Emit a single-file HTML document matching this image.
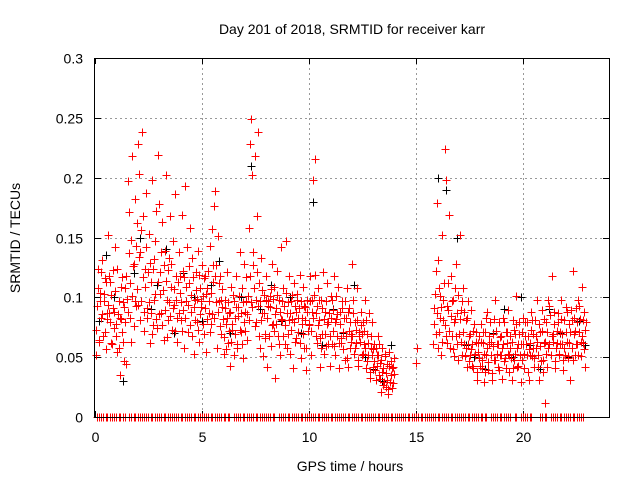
<!DOCTYPE html>
<html><head><meta charset="utf-8"><style>
html,body{margin:0;padding:0;background:#fff}
svg{display:block;font-family:"Liberation Sans",sans-serif}
</style></head><body>
<svg id="chart" width="640" height="480" viewBox="0 0 640 480">
<text x="352" y="34" font-size="14" text-anchor="middle">Day 201 of 2018, SRMTID for receiver karr</text>
<text x="350" y="471" font-size="14" text-anchor="middle">GPS time / hours</text>
<text transform="translate(20,238) rotate(-90)" font-size="14" text-anchor="middle">SRMTID / TECUs</text>
<g id="grid"></g>
<g id="ticks"></g>
<g id="black"></g>
<g id="red"></g>
<rect x="94.5" y="58.5" width="515" height="359" fill="none" stroke="#000" stroke-width="1"/>
</svg>
<script>
const xTicks=[0,5,10,15,20];
const yTicks=[0,0.05,0.1,0.15,0.2,0.25,0.3];
const yTickLabels=["0","0.05","0.1","0.15","0.2","0.25","0.3"];
const redHours=[0.05,0.1,0.15,0.2,0.25,0.3,0.35,0.4,0.45,0.5,0.55,0.6,0.65,0.7,0.75,0.8,0.85,0.9,0.95,1.0,1.05,1.1,1.15,1.2,1.25,1.3,1.35,1.4,1.45,1.5,1.55,1.6,1.65,1.7,1.75,1.8,1.85,1.9,1.95,
2.0,2.05,2.1,2.15,2.2,2.25,2.3,2.35,2.4,2.45,2.5,2.55,2.6,2.65,2.7,2.75,2.8,2.85,2.9,2.95,3.0,3.05,3.1,3.15,3.2,3.25,3.3,3.35,3.4,3.45,3.5,3.55,3.6,3.65,3.7,3.75,3.8,3.85,3.9,3.95,
4.0,4.05,4.1,4.15,4.2,4.25,4.3,4.35,4.4,4.45,4.5,4.55,4.6,4.65,4.7,4.75,4.8,4.85,4.9,4.95,5.0,5.05,5.1,5.15,5.2,5.25,5.3,5.35,5.4,5.45,5.5,5.55,5.6,5.65,5.7,5.75,5.8,5.85,5.9,5.95,
6.0,6.05,6.1,6.15,6.2,6.25,6.3,6.35,6.4,6.45,6.5,6.55,6.6,6.65,6.7,6.75,6.8,6.85,6.9,6.95,7.0,7.05,7.1,7.15,7.2,7.25,7.3,7.35,7.4,7.45,7.5,7.55,7.6,7.65,7.7,7.75,7.8,7.85,7.9,7.95,
8.0,8.05,8.1,8.15,8.2,8.25,8.3,8.35,8.4,8.45,8.5,8.55,8.6,8.65,8.7,8.75,8.8,8.85,8.9,8.95,9.0,9.05,9.1,9.15,9.2,9.25,9.3,9.35,9.4,9.45,9.5,9.55,9.6,9.65,9.7,9.75,9.8,9.85,9.9,9.95,
10.0,10.05,10.1,10.15,10.2,10.25,10.3,10.35,10.4,10.45,10.5,10.55,10.6,10.65,10.7,10.75,10.8,10.85,10.9,10.95,11.0,11.05,11.1,11.15,11.2,11.25,11.3,11.35,11.4,11.45,11.5,11.55,11.6,11.65,11.7,11.75,11.8,11.85,11.9,11.95,
12.0,12.05,12.1,12.15,12.2,12.25,12.3,12.35,12.4,12.45,12.5,12.55,12.6,12.65,12.7,12.75,12.8,12.85,12.9,12.95,13.0,13.05,13.1,13.15,13.2,13.25,13.3,13.35,13.4,13.45,13.5,13.55,13.6,13.65,13.7,13.75,13.8,13.85,13.9,13.95,
15.0,15.8,15.85,15.9,15.95,16.0,16.05,16.1,16.15,16.2,16.25,16.3,16.35,16.4,16.45,16.5,16.55,16.6,16.65,16.7,16.75,16.8,16.85,16.9,16.95,17.0,17.05,17.1,17.15,17.2,17.25,17.3,17.35,17.4,17.45,17.5,17.55,17.6,17.65,17.7,17.75,17.8,17.85,17.9,17.95,
18.0,18.05,18.1,18.15,18.2,18.25,18.3,18.35,18.4,18.45,18.5,18.55,18.6,18.65,18.7,18.75,18.8,18.85,18.9,18.95,19.0,19.05,19.1,19.15,19.2,19.25,19.3,19.35,19.4,19.45,19.5,19.55,19.6,19.65,19.7,19.75,19.8,19.85,19.9,19.95,
20.0,20.05,20.1,20.15,20.2,20.25,20.3,20.35,20.4,20.45,20.5,20.55,20.6,20.65,20.7,20.75,20.8,20.85,20.9,20.95,21.0,21.05,21.1,21.15,21.2,21.25,21.3,21.35,21.4,21.45,21.5,21.55,21.6,21.65,21.7,21.75,21.8,21.85,21.9,21.95,
22.0,22.05,22.1,22.15,22.2,22.25,22.3,22.35,22.4,22.45,22.5,22.55,22.6,22.65,22.7,22.75,22.8,22.85,22.9];
const redValues=[.052,.093,.124,.063,.104,.083,.131,.097,.071,.113,.087,.152,.118,.079,.102,.061,.123,.088,.142,.068,.054,.097,.035,.082,.117,.063,.092,.108,.044,.099,.197,.171,.083,.148,.218,.128,.182,.093,.162,
.228,.203,.138,.097,.238,.168,.072,.124,.187,.091,.153,.062,.113,.198,.077,.132,.103,.172,.074,.219,.178,.121,.087,.163,.064,.139,.202,.098,.081,.133,.168,.109,.073,.147,.094,.186,.118,.063,.138,.104,
.081,.169,.122,.058,.193,.097,.142,.071,.112,.158,.088,.133,.053,.098,.121,.079,.139,.063,.108,.092,.127,.101,.069,.118,.054,.108,.087,.143,.078,.157,.113,.176,.189,.127,.058,.151,.097,.118,.069,.092,
.053,.098,.078,.121,.062,.087,.043,.109,.073,.102,.052,.083,.118,.061,.092,.138,.071,.108,.049,.128,.088,.117,.064,.101,.158,.228,.249,.202,.138,.218,.079,.168,.238,.112,.058,.133,.087,.051,.102,.069,
.118,.042,.093,.101,.059,.128,.078,.109,.033,.091,.122,.068,.098,.052,.142,.081,.108,.061,.147,.087,.069,.118,.053,.097,.082,.041,.112,.063,.088,.103,.071,.119,.049,.083,.109,.058,.092,.039,.098,.072,
.078,.118,.052,.098,.198,.216,.087,.062,.108,.081,.042,.098,.069,.121,.053,.088,.059,.112,.079,.043,.101,.061,.089,.118,.052,.082,.068,.109,.041,.088,.062,.097,.071,.048,.083,.108,.042,.091,.058,.069,
.128,.098,.053,.079,.062,.108,.043,.071,.088,.052,.079,.061,.098,.041,.069,.052,.087,.033,.058,.079,.042,.061,.031,.052,.068,.035,.045,.021,.058,.041,.029,.051,.025,.044,.019,.054,.035,.041,.028,.049,
.045,.061,.091,.122,.179,.131,.071,.101,.052,.152,.081,.112,.224,.198,.062,.089,.169,.118,.068,.098,.051,.082,.128,.061,.102,.069,.152,.089,.052,.108,.061,.081,.042,.097,.068,.052,.089,.061,.041,.078,.053,.071,.031,.062,.049,
.078,.041,.062,.029,.071,.052,.088,.039,.061,.079,.052,.031,.069,.048,.098,.061,.042,.079,.052,.068,.032,.061,.079,.049,.041,.071,.089,.052,.058,.031,.081,.048,.069,.101,.042,.061,.079,.052,.029,.071,
.061,.041,.079,.052,.068,.031,.062,.088,.051,.069,.042,.081,.058,.098,.052,.031,.071,.089,.048,.062,.012,.079,.042,.098,.061,.085,.052,.118,.069,.088,.041,.062,.079,.052,.071,.098,.061,.039,.081,.052,
.071,.088,.049,.062,.031,.081,.122,.069,.052,.091,.061,.098,.071,.082,.051,.109,.062,.088,.042];
const redValuesB=[.073,.108,.064,.097,.121,.086,.068,.103,.116,.057,.082,.094,.087,.113,.062,.091,.074,.105,.078,.124,.086,.058,.083,.109,.071,.096,.047,.079,.118,.088,.137,.112,.063,.101,.126,.076,.097,.143,.107,
.094,.134,.081,.156,.117,.088,.109,.142,.083,.121,.096,.129,.087,.069,.124,.098,.147,.082,.113,.086,.103,.138,.077,.106,.127,.089,.114,.067,.123,.096,.084,.128,.091,.107,.072,.098,.083,.113,.087,.118,
.096,.072,.089,.117,.083,.109,.094,.126,.077,.102,.068,.117,.092,.081,.106,.099,.073,.119,.086,.097,.078,.116,.091,.103,.082,.122,.097,.071,.104,.086,.127,.083,.118,.096,.088,.112,.076,.098,.107,.082,
.067,.091,.057,.083,.096,.072,.088,.063,.078,.097,.069,.092,.058,.084,.101,.073,.087,.061,.096,.079,.072,.097,.086,.081,.118,.096,.092,.127,.108,.076,.098,.121,.093,.068,.097,.081,.106,.087,.066,.098,
.083,.097,.068,.092,.107,.077,.099,.072,.086,.078,.102,.061,.088,.082,.097,.068,.093,.077,.104,.058,.096,.081,.087,.073,.102,.079,.093,.066,.098,.083,.091,.062,.097,.078,.069,.093,.081,.058,.088,.077,
.097,.072,.088,.083,.102,.119,.068,.093,.077,.098,.066,.058,.091,.082,.069,.097,.078,.061,.087,.068,.083,.098,.072,.059,.079,.101,.086,.062,.078,.066,.091,.057,.083,.097,.068,.049,.088,.072,.079,.063,
.068,.087,.058,.073,.081,.048,.068,.063,.077,.069,.053,.072,.058,.081,.047,.062,.038,.068,.052,.057,.047,.039,.058,.043,.052,.061,.032,.048,.038,.027,.053,.037,.031,.023,.043,.029,.047,.024,.042,.036,
.058,.078,.103,.069,.087,.058,.108,.083,.092,.063,.098,.077,.068,.093,.112,.072,.058,.084,.097,.057,.079,.108,.068,.087,.048,.082,.063,.097,.071,.088,.051,.058,.083,.061,.047,.069,.057,.043,.072,.052,.063,.038,.054,.068,.043,
.063,.048,.071,.053,.038,.083,.058,.046,.068,.063,.037,.059,.082,.048,.072,.053,.061,.039,.067,.052,.058,.083,.047,.071,.062,.053,.038,.068,.049,.063,.041,.073,.053,.078,.058,.043,.069,.061,.048,.083,
.053,.068,.061,.079,.038,.057,.052,.073,.081,.058,.049,.068,.063,.042,.078,.059,.047,.072,.038,.082,.063,.053,.071,.058,.093,.052,.068,.063,.078,.047,.058,.072,.087,.053,.061,.082,.069,.048,.058,.092,
.063,.051,.078,.071,.089,.058,.048,.083,.072,.061,.079,.052,.093,.063,.068,.081,.057,.073,.079];
const blackHours=[0.2,0.5,0.9,1.3,1.8,2.1,2.6,2.9,3.3,3.7,4.1,4.6,5.0,5.4,5.8,6.3,6.8,7.3,7.7,8.2,8.7,9.1,9.6,10.2,10.6,11.1,11.6,12.1,12.6,13.0,13.4,13.8,16.0,16.4,16.9,17.3,17.7,18.2,18.6,19.1,19.5,19.9,20.3,20.8,21.2,21.7,22.1,22.6,22.9];
const blackValues=[.08,.135,.1,.03,.12,.15,.09,.11,.14,.07,.12,.1,.08,.11,.13,.07,.1,.21,.09,.11,.08,.1,.07,.18,.06,.09,.07,.11,.05,.04,.03,.06,.2,.19,.15,.06,.05,.04,.07,.09,.05,.1,.06,.04,.09,.07,.05,.08,.06];
const zeroHours=[0.1,0.3,0.5,0.7,0.9,1.1,1.3,1.6,1.8,2.0,2.2,2.4,2.6,2.8,3.0,3.2,3.4,3.6,3.8,4.0,4.2,4.4,4.6,4.8,5.0,5.2,5.4,5.6,5.8,6.0,6.2,6.5,6.7,6.9,7.1,7.3,7.5,7.7,7.9,8.1,8.3,8.6,8.8,9.0,9.2,9.4,9.6,9.8,10.0,10.2,10.4,10.6,10.8,11.0,11.2,11.4,11.6,11.8,12.0,12.2,12.4,12.6,12.8,13.0,13.2,13.4,13.6,13.8,14.0,14.2,14.4,14.6,14.8,15.0,15.2,15.4,15.6,15.8,16.0,16.2,16.4,16.6,16.8,17.0,17.2,17.4,17.6,17.8,18.0,18.2,18.5,18.7,18.9,19.1,19.3,19.6,19.9,20.1,20.3,20.8,21.0,21.3,21.5,21.7,21.9,22.1,22.3,22.5,22.7];
const NS='http://www.w3.org/2000/svg';
const X0=95,X1=609,Y0=417,Y1=58,XMAX=24,YMAX=0.3;
function xs(v){return X0+(X1-X0)*v/XMAX;}
function ys(v){return Y0-(Y0-Y1)*v/YMAX;}
const grid=document.getElementById('grid'),ticks=document.getElementById('ticks');
function line(g,x1,y1,x2,y2,st,dash){const l=document.createElementNS(NS,'line');l.setAttribute('x1',x1);l.setAttribute('y1',y1);l.setAttribute('x2',x2);l.setAttribute('y2',y2);l.setAttribute('stroke',st);if(dash)l.setAttribute('stroke-dasharray',dash);g.appendChild(l);return l;}
xTicks.forEach(t=>{const x=Math.round(xs(t))+0.5;
 if(t>0){const gl=line(grid,x,Y1,x,Y0,'#999','2,3');
 
 }
 line(ticks,x,Y0,x,Y0-6,'#000');line(ticks,x,Y1,x,Y1+6,'#000');
 const tx=document.createElementNS(NS,'text');tx.setAttribute('x',x);tx.setAttribute('y',Y0+25);tx.setAttribute('font-size','14');tx.setAttribute('text-anchor','middle');tx.textContent=t;
 
 
 ticks.appendChild(tx);});
yTicks.forEach((t,i)=>{const y=Math.round(ys(t))+0.5;
 if(t>0&&t<YMAX){const gl=line(grid,X0,y,X1,y,'#999','2,3');
 
 }
 line(ticks,X0,y,X0+6,y,'#000');line(ticks,X1,y,X1-6,y,'#000');
 const tx=document.createElementNS(NS,'text');tx.setAttribute('x',X0-12);tx.setAttribute('y',y+5);tx.setAttribute('font-size','14');tx.setAttribute('text-anchor','end');tx.textContent=yTickLabels[i];
 
 
 ticks.appendChild(tx);});
function plus(g,h,v,col){const x=Math.round(xs(h))+0.5,y=Math.round(ys(v))+0.5;
 const p=document.createElementNS(NS,'path');p.setAttribute('d','M'+(x-4)+' '+y+'H'+(x+4)+'M'+x+' '+(y-4)+'V'+(y+4));p.setAttribute('stroke',col);p.setAttribute('fill','none');
 
 
 g.appendChild(p);}
const bg=document.getElementById('black'),rg=document.getElementById('red');
for(let i=0;i<Math.min(blackHours.length,blackValues.length);i++)plus(bg,blackHours[i],blackValues[i],'#000');
for(let i=0;i<Math.min(redHours.length,redValuesB.length);i++)plus(rg,redHours[i]+0.02,redValuesB[i],'#f00');
for(let i=0;i<Math.min(redHours.length,redValues.length);i++)plus(rg,redHours[i],redValues[i],'#f00');
zeroHours.forEach(h=>{plus(rg,h,0,'#f00');plus(rg,h+0.08,0,'#f00');});
</script>
</body></html>
